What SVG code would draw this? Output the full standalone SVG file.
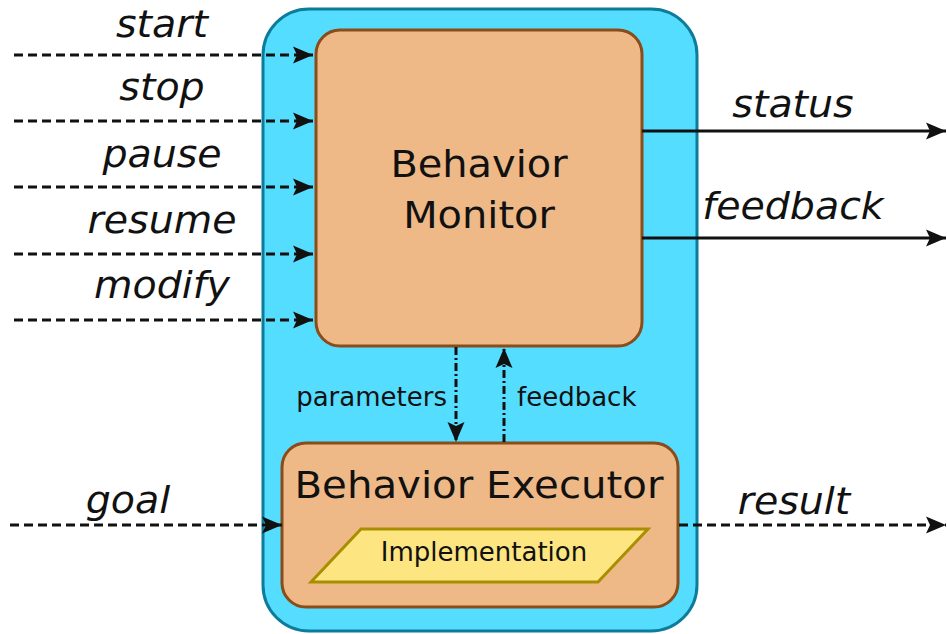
<svg xmlns="http://www.w3.org/2000/svg" width="947" height="634" viewBox="0 0 947 634">
  <style>
    .txt { font-family: "DejaVu Sans", "Liberation Sans", sans-serif; fill: #111; }
    .big { font-size: 38px; }
    .lbl { font-size: 38px; font-style: italic; }
    .small { font-size: 26px; }
    .box { fill: #efb987; stroke: #8a4c18; stroke-width: 3; }
    .dash { fill: none; stroke: #111; stroke-width: 3; stroke-dasharray: 9 5; }
    .solid { fill: none; stroke: #111; stroke-width: 3; }
    .dashdot { fill: none; stroke: #111; stroke-width: 3; stroke-dasharray: 8 3 2 3; }
  </style>
  <defs>
    <!-- arrowhead with a slightly hollow back -->
    <marker id="arrow" viewBox="-21 -10 22 20" markerWidth="22" markerHeight="20" refX="0" refY="0" orient="auto" markerUnits="userSpaceOnUse">
      <path d="M0,0 L-20,-8.5 L-16,0 L-20,8.5 z" fill="#111"/>
    </marker>
  </defs>

  <!-- container -->
  <g id="container">
    <rect x="263" y="9" width="434" height="622" rx="46" ry="46" fill="#55ddff" stroke="#0d7c9a" stroke-width="3"/>
  </g>

  <!-- Behavior Monitor -->
  <g id="behavior-monitor">
    <rect class="box" x="316" y="30" width="326" height="316" rx="24" ry="24"/>
    <text class="txt big" transform="translate(479,177) scale(1.05,1)" text-anchor="middle">Behavior</text>
    <text class="txt big" transform="translate(479,228) scale(1.05,1)" text-anchor="middle">Monitor</text>
  </g>

  <!-- Behavior Executor -->
  <g id="behavior-executor">
    <rect class="box" x="282" y="443" width="396" height="164" rx="24" ry="24"/>
    <text class="txt big" transform="translate(479,498) scale(1.06,1)" text-anchor="middle">Behavior Executor</text>
  </g>

  <!-- Implementation -->
  <g id="implementation">
    <polygon points="311,582 361,529 648,529 598,582" fill="#fde581" stroke="#a88f00" stroke-width="3"/>
    <text class="txt small" x="484" y="561" text-anchor="middle">Implementation</text>
  </g>

  <!-- connectors -->
  <g id="connectors">
    <line class="dash" x1="14" y1="55" x2="313" y2="55" marker-end="url(#arrow)"/>
    <line class="dash" x1="14" y1="121" x2="313" y2="121" marker-end="url(#arrow)"/>
    <line class="dash" x1="14" y1="187" x2="313" y2="187" marker-end="url(#arrow)"/>
    <line class="dash" x1="14" y1="254" x2="313" y2="254" marker-end="url(#arrow)"/>
    <line class="dash" x1="14" y1="320" x2="313" y2="320" marker-end="url(#arrow)"/>
    <line class="dash" x1="10" y1="525" x2="282" y2="525" marker-end="url(#arrow)"/>
    <line class="dash" x1="679" y1="525" x2="946" y2="525" marker-end="url(#arrow)"/>
    <line class="solid" x1="642" y1="131" x2="946" y2="131" marker-end="url(#arrow)"/>
    <line class="solid" x1="642" y1="238" x2="946" y2="238" marker-end="url(#arrow)"/>
    <line class="dashdot" x1="456" y1="347" x2="456" y2="442" marker-end="url(#arrow)"/>
    <line class="dashdot" x1="504" y1="442" x2="504" y2="348" marker-end="url(#arrow)"/>
  </g>

  <!-- connector labels -->
  <g id="labels">
    <text class="txt lbl" transform="translate(162,37) scale(1.04,1)" text-anchor="middle">start</text>
    <text class="txt lbl" transform="translate(162,100) scale(1.04,1)" text-anchor="middle">stop</text>
    <text class="txt lbl" transform="translate(162,167) scale(1.04,1)" text-anchor="middle">pause</text>
    <text class="txt lbl" transform="translate(162,233) scale(1.04,1)" text-anchor="middle">resume</text>
    <text class="txt lbl" transform="translate(162,298) scale(1.04,1)" text-anchor="middle">modify</text>
    <text class="txt lbl" transform="translate(128,513) scale(1.04,1)" text-anchor="middle">goal</text>
    <text class="txt lbl" transform="translate(794,514) scale(1.04,1)" text-anchor="middle">result</text>
    <text class="txt lbl" transform="translate(793,117) scale(1.04,1)" text-anchor="middle">status</text>
    <text class="txt lbl" transform="translate(793,219) scale(1.04,1)" text-anchor="middle">feedback</text>
    <text class="txt small" x="447" y="406" text-anchor="end">parameters</text>
    <text class="txt small" x="517" y="406">feedback</text>
  </g>
</svg>
